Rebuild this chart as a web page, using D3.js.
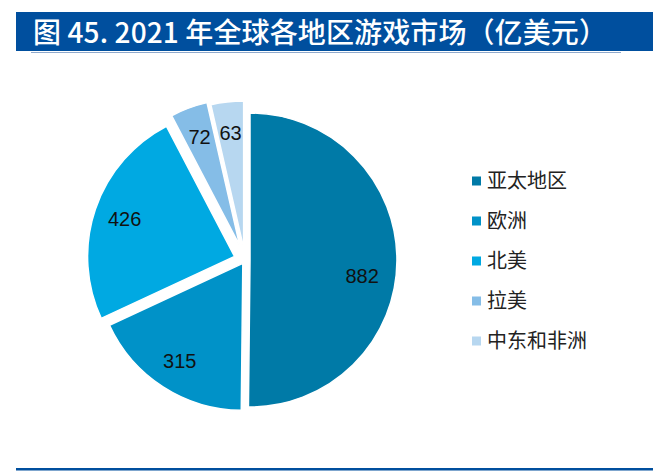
<!DOCTYPE html>
<html>
<head>
<meta charset="utf-8">
<script src="https://cdn.jsdelivr.net/npm/d3@7"></script>
<style>
  body { margin: 0; background: #fff; }
  svg { display: block; }
</style>
</head>
<body>
<div id="chart"></div>
<script>
// data
var regions = ["亚太地区", "欧洲", "北美", "拉美", "中东和非洲"];
var revenue = [882, 315, 426, 72, 63];
var title = "图 45. 2021 年全球各地区游戏市场（亿美元）";

// styles
var colors = ["#007aa7", "#0092c8", "#00a9e2", "#85bde7", "#b7d7f0"];
var explode = [5, 4, 11, 15, 12];        // px pushed out along mid-angle
var labelNudge = [[-4, 15], [0, 0], [0, 0], [0, 0], [0, 0]];

var width = 660, height = 474;
var cx = 245, cy = 260, radius = 147;
var cjk = "'Noto Sans CJK SC', 'Noto Sans', sans-serif";

var svg = d3.select("#chart").append("svg")
    .attr("width", width)
    .attr("height", height);

// title bar
svg.append("rect")
    .attr("x", 16).attr("y", 12)
    .attr("width", 637).attr("height", 39)
    .attr("fill", "#004f9e");
svg.append("line")
    .attr("x1", 31).attr("x2", 621)
    .attr("y1", 52.5).attr("y2", 52.5)
    .attr("stroke", "#8fa9cc").attr("stroke-width", 1);
svg.append("text")
    .attr("x", 33).attr("y", 43)
    .attr("fill", "#fff")
    .attr("textLength", 574)
    .attr("lengthAdjust", "spacing")
    .style("font-family", cjk)
    .style("font-size", "28px")
    .style("font-weight", "500")
    .text(title);

// bottom rule
svg.append("rect")
    .attr("x", 16).attr("y", 468)
    .attr("width", 637).attr("height", 2.5)
    .attr("fill", "#004f9e");

// pie
var pie = d3.pie().sort(null).value(function(d) { return d; });
var arcs = pie(revenue);
var arc = d3.arc().innerRadius(0).outerRadius(radius);
var labelArc = d3.arc().innerRadius(radius * 0.79).outerRadius(radius * 0.79);

var g = svg.append("g").attr("transform", "translate(" + cx + "," + cy + ")");

var slice = g.selectAll(".slice")
    .data(arcs)
    .enter().append("g")
    .attr("class", "slice")
    .attr("transform", function(d, i) {
      var a = (d.startAngle + d.endAngle) / 2;
      return "translate(" + (Math.sin(a) * explode[i]) + "," + (-Math.cos(a) * explode[i]) + ")";
    });

slice.append("path")
    .attr("d", arc)
    .attr("fill", function(d, i) { return colors[i]; })
    .attr("stroke", "#fff")
    .attr("stroke-width", 1.5);

slice.append("text")
    .attr("transform", function(d, i) {
      var c = labelArc.centroid(d);
      return "translate(" + (c[0] + labelNudge[i][0]) + "," + (c[1] + labelNudge[i][1]) + ")";
    })
    .attr("text-anchor", "middle")
    .attr("dy", "0.36em")
    .attr("fill", "#111")
    .style("font-family", "'Liberation Sans', Arial, sans-serif")
    .style("font-size", "20px")
    .text(function(d) { return d.data; });

// legend
var legend = svg.append("g").attr("transform", "translate(472,181)");
var item = legend.selectAll(".item")
    .data(regions)
    .enter().append("g")
    .attr("class", "item")
    .attr("transform", function(d, i) { return "translate(0," + (i * 40) + ")"; });

item.append("rect")
    .attr("x", 0).attr("y", -4.5)
    .attr("width", 9).attr("height", 9)
    .attr("fill", function(d, i) { return colors[i]; });

item.append("text")
    .attr("x", 15)
    .attr("dy", "0.36em")
    .attr("fill", "#222")
    .style("font-family", cjk)
    .style("font-size", "20px")
    .text(function(d) { return d; });
</script>
</body>
</html>
